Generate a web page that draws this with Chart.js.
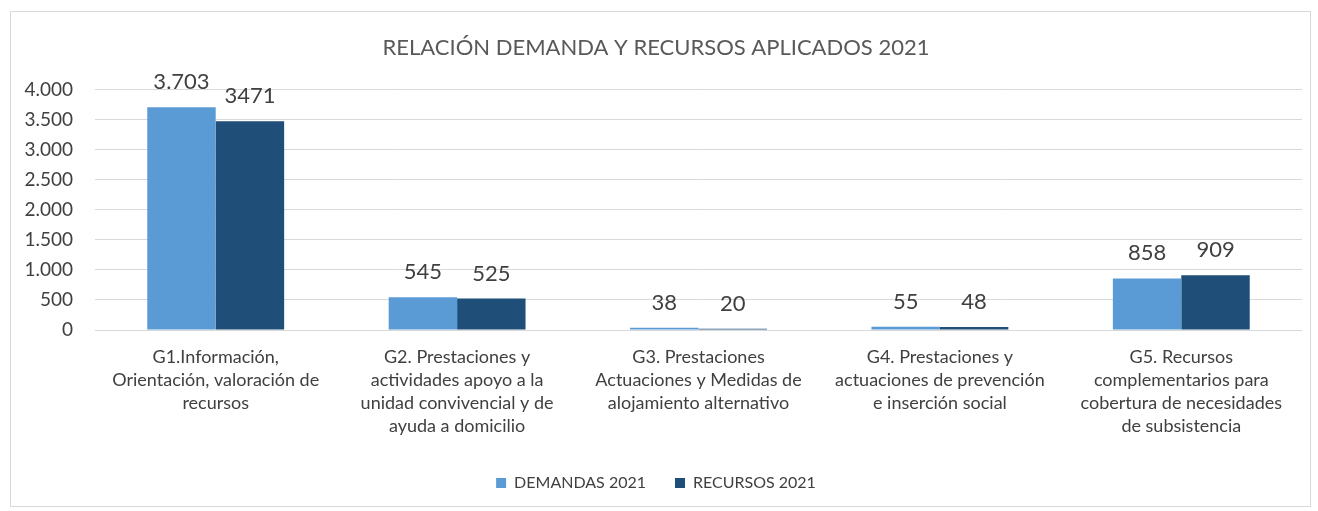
<!DOCTYPE html>
<html>
<head>
<meta charset="utf-8">
<script src="https://cdn.jsdelivr.net/npm/chart.js@4"></script>
<style>
  html, body { margin: 0; padding: 0; background: #fff; }
  #wrap { width: 1318px; height: 511px; }
</style>
</head>
<body>
<div id="wrap"><canvas id="demandaChart"></canvas></div>
<script>
const categories = [
    ['G1.Información,', 'Orientación, valoración de', 'recursos'],
    ['G2. Prestaciones y', 'actividades apoyo a la', 'unidad convivencial y de', 'ayuda a domicilio'],
    ['G3. Prestaciones', 'Actuaciones y Medidas de', 'alojamiento alternativo'],
    ['G4. Prestaciones y', 'actuaciones de prevención', 'e inserción social'],
    ['G5. Recursos', 'complementarios para', 'cobertura de necesidades', 'de subsistencia'],
];
const demandas2021 = [3703, 545, 38, 55, 858];
const recursos2021 = [3471, 525, 20, 48, 909];
const yTicks = [0, 500, 1000, 1500, 2000, 2500, 3000, 3500, 4000];

const FONT = 'Lato, "Liberation Sans", sans-serif';

// miles con punto: 3703 -> 3.703
function miles(v) {
    return String(v).replace(/\B(?=(\d{3})+(?!\d))/g, '.');
}

// etiquetas encima de las barras
const etiquetas = {
    id: 'etiquetas',
    afterDatasetsDraw(chart) {
        const ctx = chart.ctx;
        ctx.save();
        ctx.font = '22px ' + FONT;
        ctx.fillStyle = '#404040';
        ctx.textAlign = 'center';
        ctx.textBaseline = 'middle';
        chart.data.datasets.forEach((ds, i) => {
            chart.getDatasetMeta(i).data.forEach((bar, j) => {
                const txt = i === 0 ? miles(ds.data[j]) : String(ds.data[j]);
                ctx.fillText(txt, bar.x, bar.y - 25);
            });
        });
        ctx.restore();
    }
};

// marco gris del gráfico
const marco = {
    id: 'marco',
    beforeDraw(chart) {
        const ctx = chart.ctx;
        ctx.save();
        ctx.strokeStyle = '#d9d9d9';
        ctx.lineWidth = 1;
        ctx.strokeRect(10.5, 11.5, 1300, 495);
        ctx.restore();
    }
};

function createDemandaChart() {
    const ctx = document.getElementById('demandaChart').getContext('2d');
    new Chart(ctx, {
        type: 'bar',
        data: {
            labels: categories,
            datasets: [
                {
                    label: 'DEMANDAS 2021',
                    data: demandas2021,
                    backgroundColor: '#5B9BD5',
                },
                {
                    label: 'RECURSOS 2021',
                    data: recursos2021,
                    backgroundColor: '#1F4E79',
                },
            ],
        },
        options: {
            responsive: true,
            maintainAspectRatio: false,
            animation: false,
            layout: {
                padding: { left: 10, right: 16, top: 25, bottom: 10 },
            },
            datasets: {
                bar: { barPercentage: 1, categoryPercentage: 0.567 },
            },
            scales: {
                x: {
                    grid: { display: false },
                    border: { display: false },
                    ticks: {
                        maxRotation: 0,
                        autoSkip: false,
                        padding: 8,
                        color: '#404040',
                        font: { family: FONT, size: 18, lineHeight: '23px' },
                    },
                },
                y: {
                    min: 0,
                    max: 4000,
                    afterBuildTicks(axis) {
                        axis.ticks = yTicks.map(v => ({ value: v }));
                    },
                    afterFit(axis) { axis.width = 85; },
                    grid: { color: '#d9d9d9', drawTicks: false },
                    border: { display: false },
                    ticks: {
                        padding: 22,
                        color: '#404040',
                        font: { family: FONT, size: 19 },
                        callback: v => miles(v),
                    },
                },
            },
            plugins: {
                title: {
                    display: true,
                    text: 'RELACIÓN DEMANDA Y RECURSOS APLICADOS 2021',
                    color: '#595959',
                    font: { family: FONT, size: 22, weight: 'normal' },
                    padding: { top: 10, bottom: 28 },
                },
                legend: {
                    display: true,
                    position: 'bottom',
                    labels: {
                        boxWidth: 10,
                        boxHeight: 10,
                        padding: 29,
                        color: '#404040',
                        font: { family: FONT, size: 16 },
                    },
                },
                tooltip: { enabled: false },
            },
        },
        plugins: [etiquetas, marco],
    });
}

createDemandaChart();
</script>
</body>
</html>
